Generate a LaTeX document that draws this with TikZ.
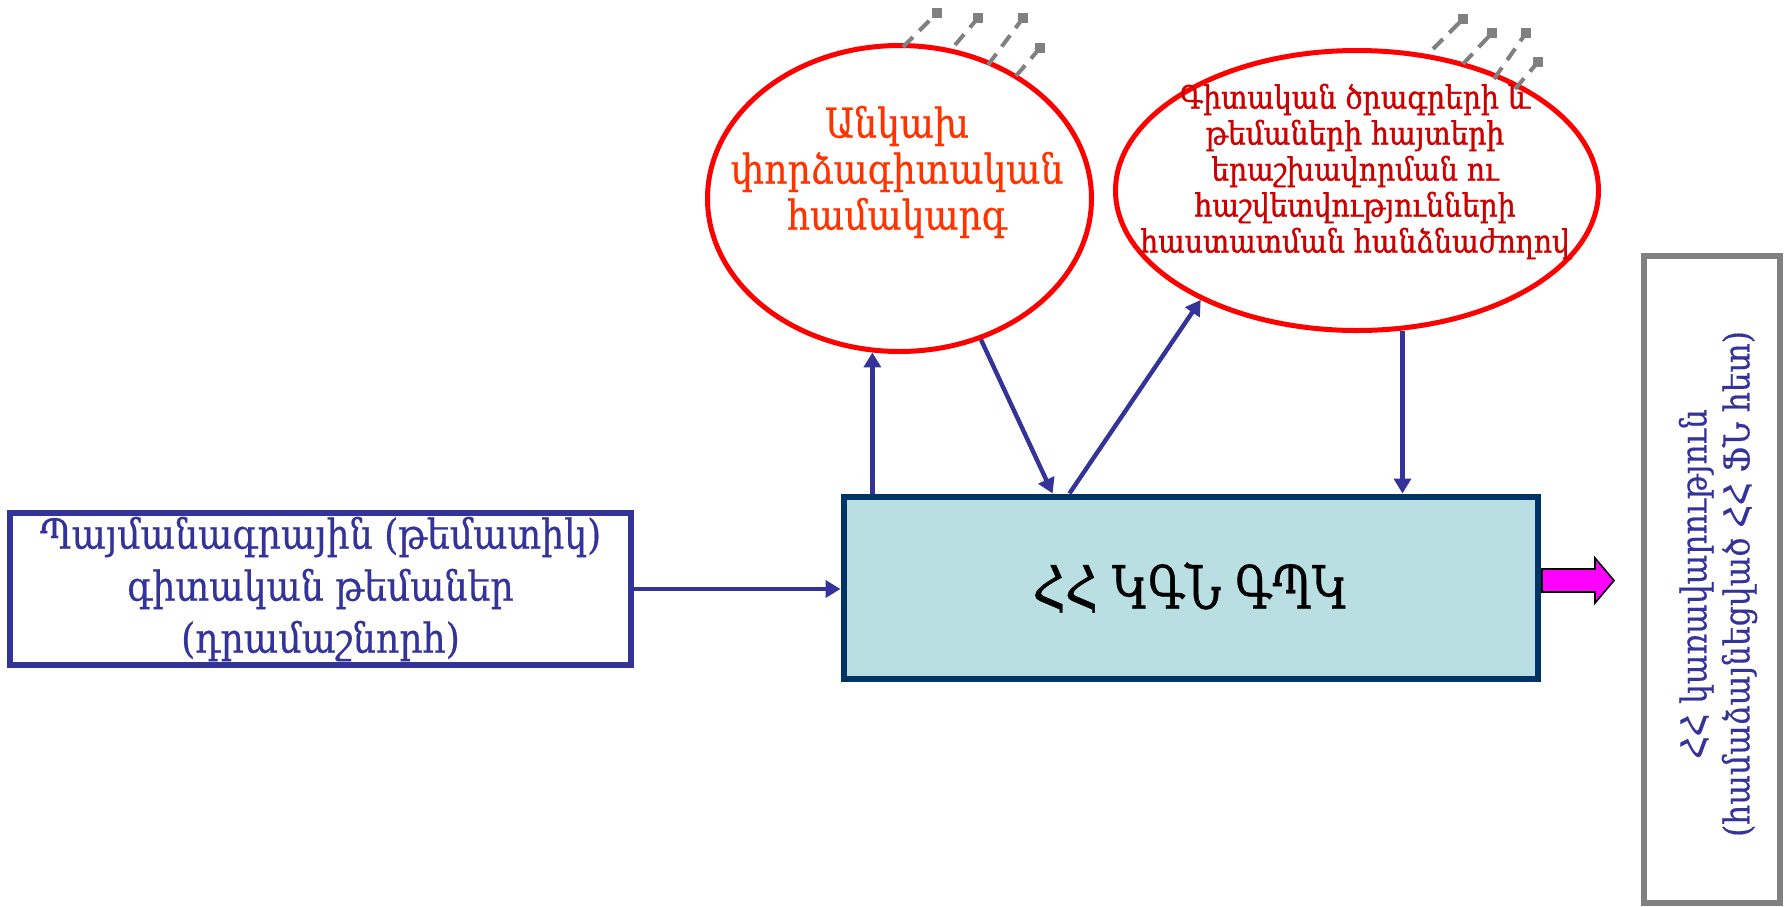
\documentclass[tikz,border=0pt]{standalone}
\usepackage{fontspec}
\setmainfont{DejaVu Serif}
\newfontfamily\armcond[FakeStretch=0.88,FakeBold=0.5]{DejaVu Serif}
\newfontfamily\armcondbold[FakeStretch=0.88,FakeBold=1.1]{DejaVu Serif}
\newfontfamily\armnarrow[FakeStretch=0.75,FakeBold=0.6]{DejaVu Serif}
\usetikzlibrary{shapes.geometric,arrows.meta,calc}
\definecolor{navy}{HTML}{333399}
\definecolor{boxline}{HTML}{003366}
\definecolor{boxfill}{HTML}{B9DFE3}
\definecolor{ellred}{HTML}{FF0000}
\definecolor{txtorange}{HTML}{FF3300}
\definecolor{txtred}{HTML}{CC0000}
\definecolor{greyline}{HTML}{808080}
\definecolor{magentafill}{HTML}{FF00FF}
\tikzset{
  srcbox/.style={draw=navy, line width=2.75pt, fill=white, minimum width=310.5pt, minimum height=76pt, inner sep=2pt, align=center, text=navy, font=\armcond\fontsize{20.6}{26}\selectfont},
  mainbox/.style={draw=boxline, line width=3pt, fill=boxfill, minimum width=347pt, minimum height=91pt, inner sep=0pt, font=\armnarrow\fontsize{30}{34}\selectfont, text=black},
  ellnode/.style={ellipse, draw=ellred, line width=2.5pt, inner sep=0pt},
  ellonetext/.style={align=center, text=txtorange, font=\armcond\fontsize{20.5}{23}\selectfont, inner sep=0pt},
  elltwotext/.style={align=center, text=txtred, font=\armcondbold\fontsize{16}{18}\selectfont, inner sep=0pt},
  govbox/.style={draw=greyline, line width=3pt, minimum width=68pt, minimum height=323.5pt, inner sep=0pt},
  govtext/.style={align=center, text=navy, font=\armcond\fontsize{17.8}{21.5}\selectfont, inner sep=0pt},
  arr/.style={draw=navy, line width=2.2pt, -{Triangle[length=7.5pt,width=8.5pt]}},
  greydash/.style={draw=greyline, line width=2pt, dash pattern=on 7pt off 4.5pt},
}
\begin{document}
\begin{tikzpicture}[x=0.5pt,y=-0.5pt]
\useasboundingbox (0,0) rectangle (1789,906);

% nodes
\node[srcbox] (src) at (320.5,589) {Պայմանագրային (թեմատիկ)\\գիտական թեմաներ\\(դրամաշնորհ)};
\node[mainbox] (main) at (1190.5,587.5) {ՀՀ ԿԳՆ ԳՊԿ};
\node[ellnode, minimum width=192pt, minimum height=153pt] (e1) at (899.5,198.5) {};
\node[ellnode, minimum width=241.5pt, minimum height=140pt] (e2) at (1357,190.5) {};
\node[ellonetext] (t1) at (897,172) {Անկախ\\փորձագիտական\\համակարգ};
\node[elltwotext] (t2) at (1355,171.5) {Գիտական ծրագրերի և\\թեմաների հայտերի\\երաշխավորման ու\\հաշվետվությունների\\հաստատման հանձնաժողով};
\node[govbox] (gov) at (1712,579.5) {};
\node[govtext, rotate=90] (t3) at (1718,584) {ՀՀ կառավարություն\\(համաձայնեցված ՀՀ ՖՆ հետ)};

% grey dashed rays with square ends
\foreach \a/\b/\c/\d in {903/47/937/13, 955/45/978/18, 988/65/1023/18, 1016/76/1040/48,
                         1433/49/1463/19, 1463/64/1492/33, 1494/79/1526/33, 1515/89/1538/62}{
  \draw[greydash] (\a,\b) -- (\c,\d);
  \fill[greyline] (\c,\d) +(-2.5pt,-2.5pt) rectangle +(2.5pt,2.5pt);
}

% connectors
\coordinate (mA2) at ($(main.north west)!0.303!(main.north east)$);
\coordinate (mA3) at ($(main.north west)!0.327!(main.north east)$);
\draw[arr] (src.east) -- (src.east -| main.west);
\draw[arr] (e1.260 |- main.north) -- (e1.260);
\draw[arr] (e1.300) -- (mA2);
\draw[arr] (mA3) -- (e2.215);
\draw[arr] (e2.288) -- (e2.288 |- main.north);

% magenta output arrow
\draw[black, line width=0.8pt, fill=magentafill] (1542,569) -- (1595,569) -- (1595,558) -- (1614,580.5) -- (1595,603) -- (1595,592) -- (1542,592) -- cycle;
\end{tikzpicture}
\end{document}
